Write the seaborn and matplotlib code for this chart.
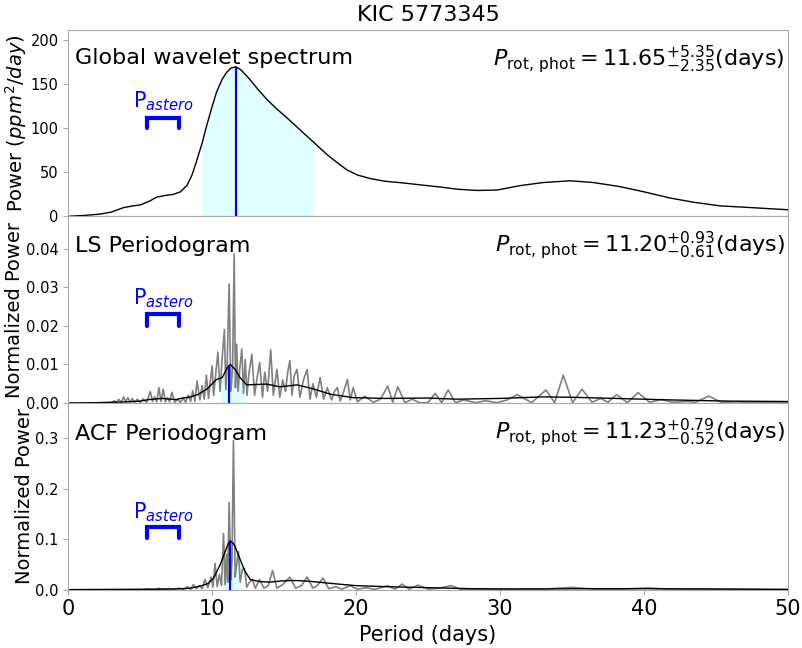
#!/usr/bin/env python3
# -*- coding: utf-8 -*-
'''
Rotation period diagnostics: wavelet, LS and ACF periodograms.
'''
import numpy as np
import seaborn as sns
import matplotlib.pyplot as plt

sns.set_style("ticks")
plt.rcParams['font.family'] = 'DejaVu Sans'
plt.rcParams['text.color'] = 'black'
plt.rcParams['axes.labelcolor'] = 'black'
plt.rcParams['axes.edgecolor'] = '#aaaaaa'
plt.rcParams['xtick.color'] = '#aaaaaa'
plt.rcParams['ytick.color'] = '#aaaaaa'
plt.rcParams['xtick.labelcolor'] = 'black'
plt.rcParams['ytick.labelcolor'] = 'black'

star = "KIC 5773345"

# global wavelet spectrum
gws_period = [0.1, 1.0, 2.2, 3.0, 3.84, 4.5, 5.0, 5.6, 6.16, 6.8,
              7.3, 7.8, 8.24, 8.6, 8.9, 9.28, 9.6, 10.0, 10.3, 10.7,
              11.0, 11.3, 11.65, 12.0, 12.6, 13.2, 13.8, 14.5, 15.2, 15.9,
              16.6, 17.3, 18.0, 18.7, 19.35, 20.1, 21.0, 22.0, 23.3, 24.4,
              25.8, 27.0, 28.4, 29.8, 31.4, 33.0, 34.9, 36.5, 38.3, 40.0,
              41.8, 43.5, 45.3, 47.5, 50.0]
gws_power = [0.3, 1.0, 2.6, 5.0, 10.0, 12.0, 13.0, 17.0, 22.0, 24.0,
             25.0, 28.0, 35.0, 47.0, 62.0, 82.0, 102.0, 125.0, 141.0, 156.0,
             163.5, 168.5, 170.0, 166.5, 156.0, 144.0, 133.0, 122.0, 112.0, 101.5,
             91.0, 80.5, 70.0, 61.0, 53.0, 47.0, 43.0, 40.0, 38.0, 36.0,
             33.5, 31.0, 29.5, 30.0, 35.0, 38.5, 40.5, 38.5, 34.0, 28.0,
             21.0, 16.0, 12.0, 10.0, 7.6]

# LS periodogram (raw, grey) and smoothed (black)
ls_period = [0.1, 3.0, 3.2, 3.35, 3.5, 3.7, 3.85, 4.0, 4.15, 4.3,
             4.45, 4.6, 4.8, 5.0, 5.2, 5.45, 5.7, 5.85, 6.0, 6.15,
             6.3, 6.45, 6.6, 6.75, 6.9, 7.05, 7.2, 7.4, 7.6, 7.8,
             8.0, 8.15, 8.35, 8.5, 8.65, 8.8, 8.95, 9.15, 9.3, 9.45,
             9.6, 9.75, 9.85, 10.0, 10.1, 10.25, 10.4, 10.55, 10.7, 10.85,
             10.95, 11.05, 11.18, 11.3, 11.42, 11.53, 11.62, 11.7, 11.8, 11.92,
             12.06, 12.18, 12.3, 12.42, 12.55, 12.76, 12.95, 13.1, 13.3, 13.5,
             13.65, 13.85, 14.07, 14.25, 14.5, 14.7, 14.9, 15.1, 15.25, 15.4,
             15.55, 15.7, 15.9, 16.1, 16.35, 16.6, 16.8, 17.0, 17.25, 17.5,
             17.75, 18.0, 18.3, 18.5, 18.7, 18.9, 19.1, 19.4, 19.6, 19.8,
             20.1, 20.6, 21.2, 21.7, 22.2, 22.55, 22.9, 23.4, 23.9, 24.4,
             25.0, 25.5, 25.95, 26.4, 26.9, 27.5, 28.3, 29.0, 29.8, 30.5,
             31.2, 32.2, 33.2, 33.8, 34.4, 35.05, 35.7, 36.4, 37.0, 37.5,
             38.1, 38.85, 39.6, 40.4, 41.2, 42.0, 43.0, 43.6, 44.5, 45.4,
             46.5, 48.0, 50.0]
ls_power = [0.0, 0.0001, 0.0006, 0.0001, 0.0010, 0.0002, 0.0016, 0.0003, 0.0014, 0.0002,
            0.0012, 0.0002, 0.0010, 0.0002, 0.0011, 0.0002, 0.0030, 0.0004, 0.0016, 0.0003,
            0.0040, 0.0004, 0.0036, 0.0003, 0.0014, 0.0003, 0.0028, 0.0002, 0.0010, 0.0002,
            0.0013, 0.0002, 0.0020, 0.0004, 0.0032, 0.0005, 0.0057, 0.0008, 0.0045, 0.0010,
            0.0072, 0.0012, 0.0050, 0.0096, 0.0020, 0.0075, 0.0132, 0.0030, 0.0120, 0.0190,
            0.0035, 0.0110, 0.0308, 0.0030, 0.0090, 0.0386, 0.0040, 0.0152, 0.0030, 0.0090,
            0.0140, 0.0025, 0.0113, 0.0020, 0.0075, 0.0126, 0.0020, 0.0060, 0.0105, 0.0015,
            0.0080, 0.0030, 0.0138, 0.0020, 0.0087, 0.0015, 0.0060, 0.0030, 0.0080, 0.0110,
            0.0020, 0.0070, 0.0087, 0.0015, 0.0060, 0.0087, 0.0010, 0.0050, 0.0015, 0.0066,
            0.0010, 0.0040, 0.0008, 0.0030, 0.0040, 0.0005, 0.0025, 0.0061, 0.0008, 0.0040,
            0.0003, 0.0018, 0.0002, 0.0010, 0.0044, 0.0002, 0.0042, 0.0001, 0.0010, 0.0001,
            0.0001, 0.0025, 0.0001, 0.0034, 0.0001, 0.0008, 0.0001, 0.0006, 0.0001, 0.0008,
            0.0022, 0.0001, 0.0034, 0.0001, 0.0072, 0.0001, 0.0036, 0.0002, 0.0012, 0.0002,
            0.0022, 0.0001, 0.0027, 0.0002, 0.0009, 0.0002, 0.0004, 0.0002, 0.0018, 0.0002,
            0.0003, 0.0001, 0.0001]
ls_smooth_period = [0.1, 2.0, 4.0, 5.0, 5.6, 6.5, 7.5, 7.8, 8.5, 9.0,
                    9.63, 10.3, 10.7, 11.06, 11.25, 11.6, 11.94, 12.4, 13.0, 13.8,
                    14.7, 15.9, 17.0, 18.2, 19.8, 22.0, 25.0, 27.0, 30.0, 33.0,
                    35.0, 38.0, 42.0, 46.0, 50.0]
ls_smooth_power = [0.0, 0.0001, 0.0003, 0.0005, 0.0009, 0.0012, 0.0009, 0.0012, 0.0016, 0.0022,
                   0.0036, 0.0061, 0.0066, 0.0092, 0.0100, 0.0087, 0.0066, 0.0047, 0.0048, 0.0049,
                   0.0042, 0.0047, 0.0037, 0.0023, 0.0014, 0.0012, 0.0013, 0.0010, 0.0012, 0.0016,
                   0.0015, 0.0012, 0.0008, 0.0005, 0.0004]

# ACF periodogram (raw, grey) and smoothed (black)
acf_period = [0.1, 5.0, 5.5, 6.0, 6.3, 6.6, 7.0, 7.3, 7.7, 8.0,
              8.3, 8.5, 8.7, 8.9, 9.1, 9.3, 9.5, 9.7, 9.93, 10.05,
              10.2, 10.35, 10.5, 10.65, 10.79, 10.9, 11.0, 11.08, 11.18, 11.3,
              11.38, 11.48, 11.6, 11.7, 11.83, 11.95, 12.1, 12.25, 12.4, 12.6,
              12.8, 13.0, 13.3, 13.6, 13.9, 14.2, 14.5, 14.9, 15.4, 15.8,
              16.2, 16.6, 17.0, 17.3, 17.7, 18.1, 18.6, 19.0, 19.6, 20.1,
              20.7, 21.3, 22.2, 22.7, 23.2, 23.7, 24.3, 25.0, 25.8, 26.6,
              27.3, 29.0, 31.0, 33.0, 35.0, 36.8, 38.5, 40.3, 42.0, 45.0,
              50.0]
acf_power = [0.0, 0.0005, 0.0015, 0.0005, 0.0025, 0.0005, 0.0025, 0.0005, 0.0030, 0.0008,
             0.0060, 0.0010, 0.0100, 0.0020, 0.0080, 0.0020, 0.0200, 0.0040, 0.0250, 0.0050,
             0.0520, 0.0060, 0.0300, 0.0080, 0.1110, 0.0100, 0.0700, 0.0150, 0.1720, 0.0200,
             0.0600, 0.2950, 0.0250, 0.0500, 0.0750, 0.0150, 0.0400, 0.0420, 0.0050, 0.0150,
             0.0200, 0.0030, 0.0200, 0.0030, 0.0080, 0.0380, 0.0030, 0.0100, 0.0250, 0.0030,
             0.0080, 0.0250, 0.0030, 0.0080, 0.0230, 0.0020, 0.0060, 0.0010, 0.0080, 0.0010,
             0.0040, 0.0005, 0.0080, 0.0010, 0.0110, 0.0010, 0.0090, 0.0010, 0.0030, 0.0080,
             0.0005, 0.0010, 0.0003, 0.0010, 0.0045, 0.0005, 0.0010, 0.0035, 0.0005, 0.0008,
             0.0002]
acf_smooth_period = [0.1, 5.0, 7.0, 8.0, 8.5, 9.0, 9.4, 9.7, 10.1, 10.55,
                     10.9, 11.1, 11.25, 11.45, 11.6, 11.9, 12.25, 12.65, 13.3, 14.0,
                     14.7, 15.3, 15.9, 16.5, 17.0, 18.4, 20.0, 22.0, 25.0, 28.0,
                     30.0, 33.0, 36.0, 40.0, 44.0, 50.0]
acf_smooth_power = [0.0, 0.0005, 0.0012, 0.002, 0.003, 0.006, 0.009, 0.012, 0.023, 0.049,
                    0.075, 0.090, 0.0967, 0.092, 0.085, 0.063, 0.038, 0.020, 0.016, 0.015,
                    0.017, 0.018, 0.018, 0.017, 0.016, 0.012, 0.008, 0.006, 0.004, 0.002,
                    0.0015, 0.0015, 0.002, 0.002, 0.0015, 0.0005]

# rotation periods: value, +err, -err
p_rot = [11.65, 11.20, 11.23]
p_err_up = [5.35, 0.93, 0.79]
p_err_lo = [2.35, 0.61, 0.52]
p_strings = ["11.65", "11.20", "11.23"]
p_labels_up = ["+5.35", "+0.93", "+0.79"]
p_labels_lo = ["-2.35", "-0.61", "-0.52"]
panel_names = ["Global wavelet spectrum", "LS Periodogram", "ACF Periodogram"]

# asteroseismic period range
p_astero = [5.5, 7.7]


def shade(ax, x, y, lo, hi, color):
    x = np.asarray(x)
    y = np.asarray(y)
    m = (x > lo) & (x < hi)
    xs = np.concatenate([[lo], x[m], [hi]])
    ys = np.concatenate([[np.interp(lo, x, y)], y[m], [np.interp(hi, x, y)]])
    ax.fill_between(xs, 0, ys, color=color, lw=0, zorder=1)


fig, axes = plt.subplots(3, 1, figsize=(8.03, 6.48), dpi=100, sharex=True)
fig.subplots_adjust(left=0.085, right=0.981, top=0.954, bottom=0.09, hspace=0)

ax0, ax1, ax2 = axes

# top: wavelet
shade(ax0, gws_period, gws_power, p_rot[0] - p_err_lo[0], p_rot[0] + p_err_up[0], '#e0ffff')
sns.lineplot(x=gws_period, y=gws_power, ax=ax0, color='black', lw=1.0, zorder=3)
ax0.vlines(p_rot[0], 0, np.interp(p_rot[0], gws_period, gws_power), color='blue', lw=1.6, zorder=4)
ax0.set_ylim(0, 212)
ax0.set_yticks([0, 50, 100, 150, 200])
ax0.set_ylabel("Power ($ppm^2/day$)", fontsize=14, labelpad=1)

# middle: LS
sns.lineplot(x=ls_period, y=ls_power, ax=ax1, color='grey', lw=1.2, zorder=2)
shade(ax1, ls_smooth_period, ls_smooth_power, p_rot[1] - p_err_lo[1], p_rot[1] + p_err_up[1], (0.6, 1.0, 1.0, 0.35))
sns.lineplot(x=ls_smooth_period, y=ls_smooth_power, ax=ax1, color='black', lw=1.0, zorder=3)
ax1.vlines(p_rot[1], 0, np.interp(p_rot[1], ls_smooth_period, ls_smooth_power), color='blue', lw=1.6, zorder=4)
ax1.set_ylim(0, 0.0483)
ax1.set_yticks([0.0, 0.01, 0.02, 0.03, 0.04])
ax1.set_ylabel("Normalized Power", fontsize=14, labelpad=1)

# bottom: ACF
sns.lineplot(x=acf_period, y=acf_power, ax=ax2, color='grey', lw=1.2, zorder=2)
shade(ax2, acf_smooth_period, acf_smooth_power, p_rot[2] - p_err_lo[2], p_rot[2] + p_err_up[2], (0.6, 1.0, 1.0, 0.35))
sns.lineplot(x=acf_smooth_period, y=acf_smooth_power, ax=ax2, color='black', lw=1.0, zorder=3)
ax2.vlines(p_rot[2], 0, np.interp(p_rot[2], acf_smooth_period, acf_smooth_power), color='blue', lw=1.6, zorder=4)
ax2.set_ylim(0, 0.369)
ax2.set_yticks([0.0, 0.1, 0.2, 0.3])
ax2.set_ylabel("Normalized Power", fontsize=14, labelpad=1)

# P_astero brackets
bracket_lo = [100, 0.020, 0.1025]
bracket_hi = [112, 0.023, 0.124]
astero_text_y = [124, 0.0255, 0.1405]
name_y = [0.90, 0.895, 0.89]

for i, ax in enumerate(axes):
    ax.plot([p_astero[0], p_astero[0], p_astero[1], p_astero[1]],
            [bracket_lo[i], bracket_hi[i], bracket_hi[i], bracket_lo[i]],
            color='blue', lw=3, solid_joinstyle='miter', zorder=5)
    ax.text(np.mean(p_astero), astero_text_y[i], "P$_{astero}$", color='blue',
            fontsize=15, ha='center', va='baseline')
    ax.text(0.01, name_y[i], panel_names[i], transform=ax.transAxes, fontsize=16,
            ha='left', va='top')
    ax.text(0.996, 0.93,
            r"$P_{\rm rot,\, phot} = %s^{%s}_{%s}$(days)" % (p_strings[i], p_labels_up[i], p_labels_lo[i]),
            transform=ax.transAxes, fontsize=16, ha='right', va='top')
    ax.set_xlim(0, 50)
    ax.tick_params(axis='y', labelsize=10.5)
    ax.tick_params(axis='x', labelsize=15)

ax0.set_title(star, fontsize=16)
ax2.set_xticks([0, 10, 20, 30, 40, 50])
ax2.set_xlabel("Period (days)", fontsize=15)

fig.savefig("out.png", dpi=100)
